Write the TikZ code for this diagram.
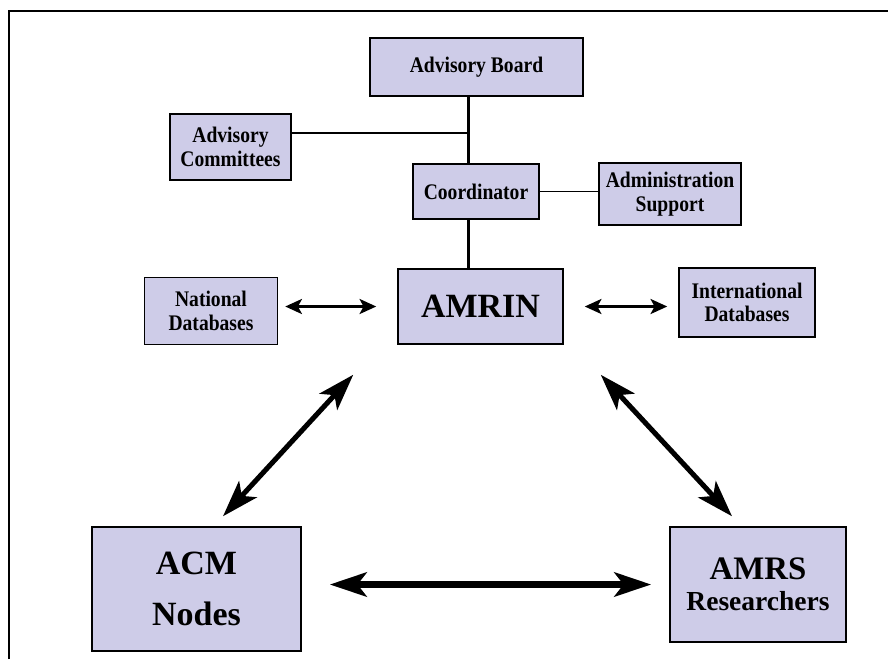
\documentclass[tikz,border=0pt]{standalone}
\usepackage{fontspec}
\setmainfont{Liberation Serif}
\newfontfamily\narrowserif{Liberation Serif}[FakeStretch=0.88]
\usepackage{xcolor}
\usepackage{tikz}
\usetikzlibrary{calc,arrows.meta}
\definecolor{boxfill}{RGB}{206,204,232}
\newcommand{\smalltext}{\narrowserif\fontsize{19}{20}\selectfont\bfseries}
\newcommand{\bigtext}{\fontsize{29}{44}\selectfont\bfseries}

\begin{document}
\begin{tikzpicture}[x=0.03cm, y=-0.03cm,
        box/.style={draw=black, line width=0.45mm, fill=boxfill, align=center, inner sep=0pt, font=\smalltext},
        big box/.style={box, font=\bigtext},
        thin link/.style={line width=0.45mm},
        thick link/.style={line width=0.9mm},
        small both/.style={line width=2.4pt, {Stealth[length=0.5cm, width=0.45cm, inset=0.12cm]}-{Stealth[length=0.5cm, width=0.45cm, inset=0.12cm]}},
        big both/.style={line width=4.3pt, {Stealth[length=1.1cm, width=0.72cm, inset=0.27cm]}-{Stealth[length=1.1cm, width=0.72cm, inset=0.27cm]}}]
        \useasboundingbox (0,0) rectangle (888,659);

        % frame
        \draw[line width=0.7mm] (9,659) -- (9,11) -- (888,11);

        % boxes
        \node[box, minimum width=6.39cm, minimum height=1.74cm] (board) at (476.5,67) {Advisory Board};
        \node[box, minimum width=3.63cm, minimum height=1.98cm] (committees) at (230.5,147) {Advisory\\Committees};
        \node[box, minimum width=3.78cm, minimum height=1.65cm] (coordinator) at (476,191.5) {Coordinator};
        \node[box, minimum width=4.26cm, minimum height=1.86cm] (admin) at (670,194) {Administration\\Support};
        \node[big box, minimum width=4.95cm, minimum height=2.25cm] (amrin) at (480.5,306.5) {AMRIN};
        \node[box, minimum width=3.99cm, minimum height=2.01cm] (national) at (211,311) {National\\Databases};
        \node[box, minimum width=4.08cm, minimum height=2.07cm] (international) at (747,302.5) {International\\Databases};
        \node[big box, minimum width=6.27cm, minimum height=3.72cm] (acm) at (196.5,589) {ACM\\Nodes};
        \node[box, minimum width=5.28cm, minimum height=3.45cm, font=\fontsize{23.5}{26.5}\selectfont\bfseries] (amrs) at (758,584.5) {{\fontsize{28}{26.5}\selectfont AMRS}\\Researchers};

        % spine
        \coordinate (spine) at (468,133);

        % lines
        \draw[thick link] (board.south -| spine) -- (coordinator.north -| spine);
        \draw[thin link] (committees.east |- spine) -- (spine);
        \draw[thin link] (coordinator.east) -- (admin.west |- coordinator.east);
        \draw[thick link] (coordinator.south -| spine) -- (amrin.north -| spine);

        % arrows
        \draw[small both] ($(national.east |- amrin.west)+(7,0)$) -- ($(amrin.west)+(-21,0)$);
        \draw[small both] ($(amrin.east)+(21,0)$) -- ($(international.west |- amrin.east)+(-11,0)$);
        \draw[big both] ($(amrin.south west)+(-44,30)$) -- ($(acm.north)+(26.5,-10)$);
        \draw[big both] ($(amrin.south east)+(37,30)$) -- ($(amrs.north)+(-26,-10)$);
        \draw[big both, line width=6pt] ($(acm.east |- amrs.west)+(28,0)$) -- ($(amrs.west)+(-18,0)$);

\end{tikzpicture}
\end{document}
